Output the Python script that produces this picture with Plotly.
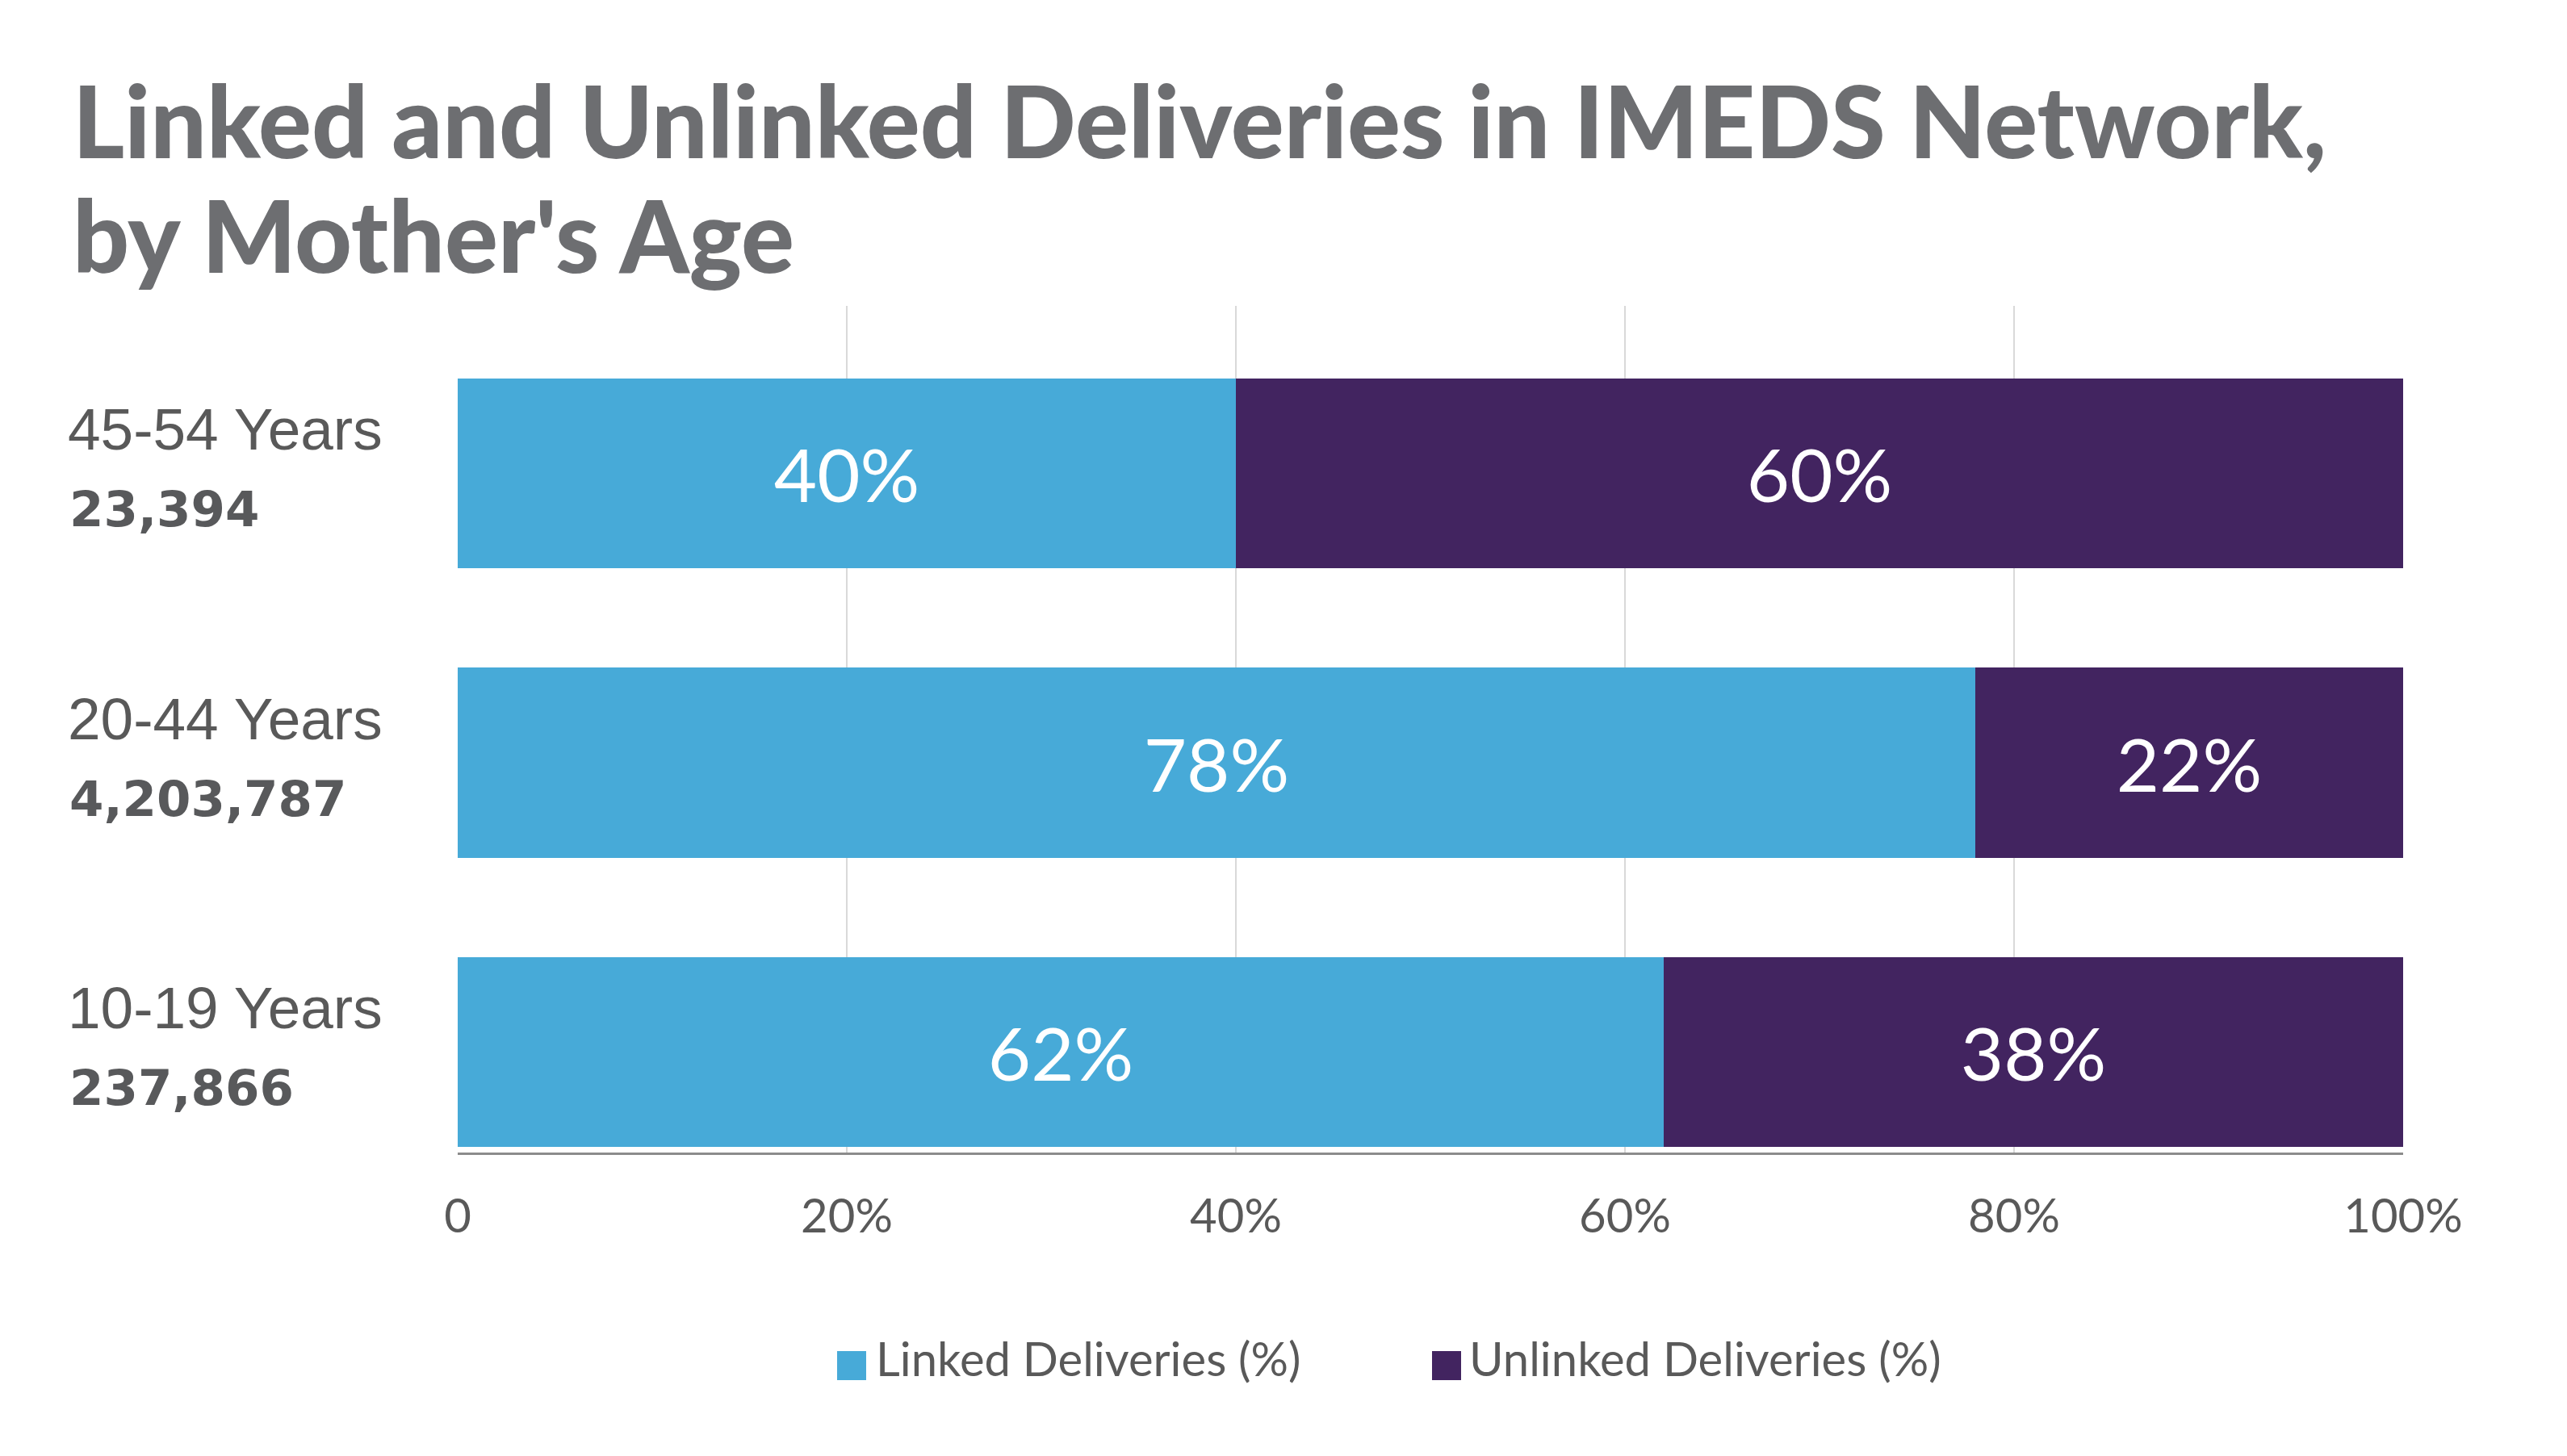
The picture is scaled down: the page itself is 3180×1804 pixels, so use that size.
import plotly.graph_objects as go

# ---- data ----
age_groups = ["10-19 Years", "20-44 Years", "45-54 Years"]
deliveries = ["237,866", "4,203,787", "23,394"]
linked_pct = [62, 78, 40]
unlinked_pct = [38, 22, 60]
x_ticks = [0, 20, 40, 60, 80, 100]
x_tick_labels = ["0", "20%", "40%", "60%", "80%", "100%"]
series_names = ["Linked Deliveries (%)", "Unlinked Deliveries (%)"]
title_lines = ["Linked and Unlinked Deliveries in IMEDS Network,", "by Mother's Age"]

# ---- style ----
W, H = 3180, 1804
L, R, T, B = 559, 2969, 371, 1420
C_LINK = "#47aad8"
C_UNLINK = "#422460"
GREY = "#595959"


def px(x):
    return (x - L) / (R - L)


def py(y):
    return (B - y) / (B - T)


fig = go.Figure()
for vals, name, col in [(linked_pct, series_names[0], C_LINK),
                        (unlinked_pct, series_names[1], C_UNLINK)]:
    fig.add_trace(go.Bar(
        y=age_groups, x=vals, name=name, orientation="h",
        marker=dict(color=col, line=dict(width=0)),
        width=0.657,
        text=[f"{v}%" for v in vals], texttemplate="%{text}",
        textposition="inside", insidetextanchor="middle",
        insidetextfont=dict(family="Lato", size=92, color="white"),
        showlegend=False, hoverinfo="skip",
    ))

annotations = []
# title
for i, line in enumerate(title_lines):
    annotations.append(dict(
        text=line, xref="paper", yref="paper", x=px(80), y=py([141, 283][i]),
        xanchor="left", yanchor="middle", showarrow=False,
        font=dict(family="Lato", size=123, color="#6d6e71", weight=900),
    ))
# category labels
for cat, cnt in zip(age_groups, deliveries):
    annotations.append(dict(
        text=cat, xref="paper", yref="y", x=px(74), y=cat, yshift=55,
        xanchor="left", yanchor="middle", showarrow=False,
        font=dict(family="Liberation Sans", size=73, color=GREY),
    ))
    annotations.append(dict(
        text=cnt, xref="paper", yref="y", x=px(76), y=cat, yshift=-44,
        xanchor="left", yanchor="middle", showarrow=False,
        font=dict(family="DejaVu Sans", size=61, color="#58595b", weight="bold"),
    ))

# legend (manual)
shapes = []
legend_items = [(1029, 1075, series_names[0], C_LINK), (1766, 1810, series_names[1], C_UNLINK)]
for sx, tx, name, col in legend_items:
    shapes.append(dict(type="rect", xref="paper", yref="paper",
                       x0=px(sx), x1=px(sx + 36), y0=py(1702), y1=py(1666),
                       fillcolor=col, line=dict(width=0)))
    annotations.append(dict(
        text=name, xref="paper", yref="paper", x=px(tx), y=py(1674),
        xanchor="left", yanchor="middle", showarrow=False,
        font=dict(family="Lato", size=58, color=GREY),
    ))

fig.update_layout(
    width=W, height=H,
    margin=dict(l=L, r=W - R, t=T, b=H - B, pad=0),
    paper_bgcolor="white", plot_bgcolor="white",
    barmode="stack", bargap=0.343,
    showlegend=False,
    annotations=annotations, shapes=shapes,
    font=dict(family="Lato", color=GREY),
)
fig.update_xaxes(
    range=[0, 100], tickvals=x_ticks, ticktext=x_tick_labels,
    showgrid=True, gridcolor="#d9d9d9", gridwidth=2, zeroline=False,
    showline=True, linecolor="#8c8c8c", linewidth=3,
    ticks="", ticklabelstandoff=26,
    tickfont=dict(family="Lato", size=58, color=GREY),
)
fig.update_yaxes(
    categoryorder="array", categoryarray=age_groups,
    range=[-0.348, 2.58], showticklabels=False, showgrid=False,
    zeroline=False, showline=False,
)

fig.write_html("out.html")
